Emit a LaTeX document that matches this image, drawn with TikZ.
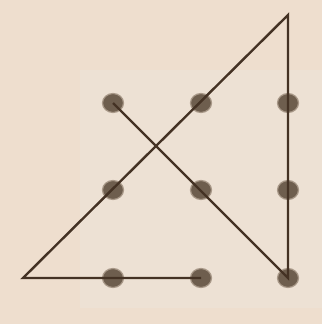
\documentclass[tikz,border=0pt]{standalone}
\usetikzlibrary{shapes.geometric}
\begin{document}
\begin{tikzpicture}[x=1pt,y=-1pt,
  dot/.style={ellipse,inner sep=0pt,minimum width=21pt,minimum height=19pt,fill=dotc,draw=dotc!55!bgc,line width=1.2pt},
  edge/.style={draw=linec,line width=2.4pt,line join=miter}]
\definecolor{bgc}{RGB}{238,222,206}
\definecolor{innerc}{RGB}{237,225,212}
\definecolor{dotc}{RGB}{110,94,78}
\definecolor{linec}{RGB}{68,50,36}
\fill[bgc] (0,0) rectangle (322,324);
\fill[innerc] (80,70) rectangle (322,308);
\useasboundingbox (0,0) rectangle (322,324);
\foreach \i/\x in {1/113,2/201,3/288}{
  \foreach \j/\y in {1/103,2/190,3/278}{
    \node[dot] (d\i\j) at (\x,\y) {};
  }
}
\coordinate (apex) at (288,15);
\coordinate (corner) at (23,278);
\draw[edge] (d11.center) -- (d33.center) -- (apex) -- (corner) -- (d23.center);
\end{tikzpicture}
\end{document}
